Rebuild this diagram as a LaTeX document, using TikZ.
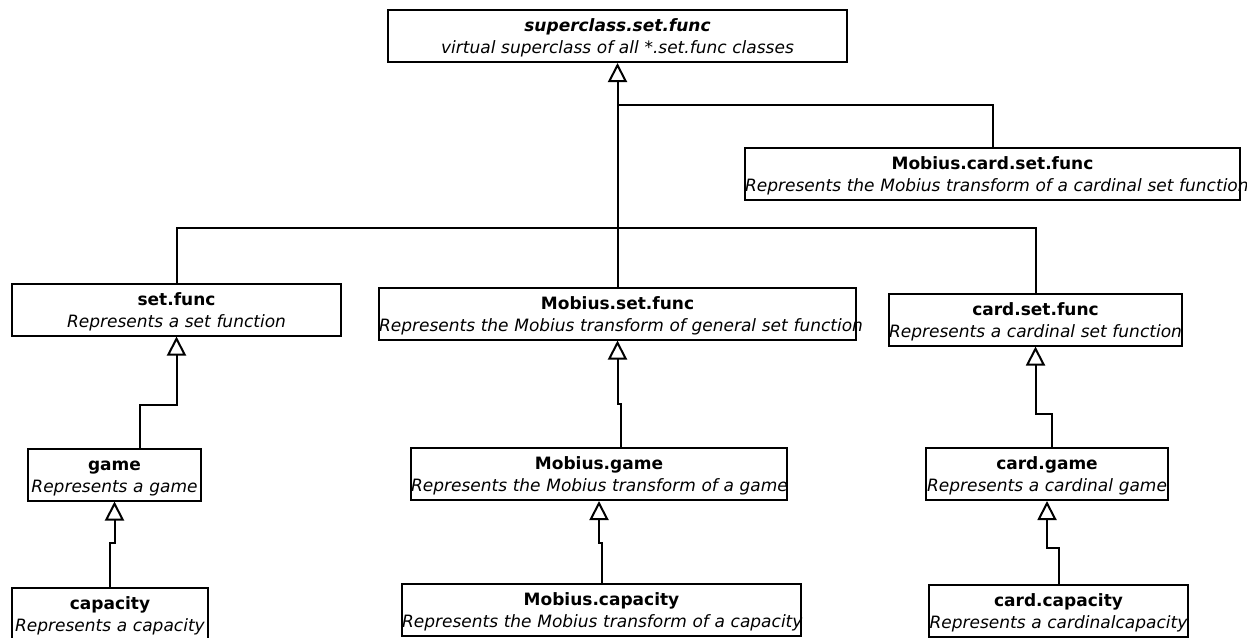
\documentclass[tikz,border=0pt]{standalone}
\usepackage{fontspec}
\setmainfont{DejaVu Sans}
\usetikzlibrary{arrows.meta}

\newcommand{\cls}[2]{\rule{0pt}{17pt}\mbox{\textbf{#1}}\\\mbox{\textit{#2}}}

\begin{document}
\begin{tikzpicture}[x=1pt,y=-1pt,
  >={Triangle[open,length=19pt,width=19pt]},
  class/.style={draw,line width=2pt,inner sep=0pt,align=center,
    minimum height=52pt,font=\fontsize{17}{22}\selectfont},
  inherit/.style={->,line width=2pt},
  link/.style={line width=2pt}]
  \useasboundingbox (0,0) rectangle (1247,637);

  % top level
  \node[class,text width=459pt] (super) at (617.5,36)
    {\cls{\textit{superclass.set.func}}{virtual superclass of all *.set.func classes}};
  \node[class,text width=495pt] (mcsf) at (992.5,173.5)
    {\cls{Mobius.card.set.func}{Represents the Mobius transform of a cardinal set function}};

  % set functions
  \node[class,text width=329pt] (setfunc) at (176.5,309.5)
    {\cls{set.func}{Represents a set function}};
  \node[class,text width=477pt] (msf) at (617.5,313.5)
    {\cls{Mobius.set.func}{Represents the Mobius transform of general set function}};
  \node[class,text width=293pt] (csf) at (1035.5,319.5)
    {\cls{card.set.func}{Represents a cardinal set function}};

  % games
  \node[class,text width=173pt] (game) at (114.5,474.5)
    {\cls{game}{Represents a game}};
  \node[class,text width=376pt] (mgame) at (599,474)
    {\cls{Mobius.game}{Represents the Mobius transform of a game}};
  \node[class,text width=242pt] (cgame) at (1047,474)
    {\cls{card.game}{Represents a cardinal game}};

  % capacities
  \node[class,text width=196pt] (cap) at (110,613.5)
    {\cls{capacity}{Represents a capacity}};
  \node[class,text width=399pt] (mcap) at (601.5,609.5)
    {\cls{Mobius.capacity}{Represents the Mobius transform of a capacity}};
  \node[class,text width=259pt] (ccap) at (1058.5,610.5)
    {\cls{card.capacity}{Represents a cardinalcapacity}};

  \coordinate (tap) at (617.5,105);
  \coordinate (bus) at (617.5,228);

  \draw[inherit] (msf.north) -- (super.south);
  \draw[link] (mcsf.north) |- (tap);
  \draw[link] (setfunc.north) |- (bus) -| (csf.north);

  \draw[inherit] ([xshift=25.5pt]game.north) -- ++(0,-43) -| (setfunc.south);
  \draw[inherit] (cap.north) -- ++(0,-44) -| (game.south);
  \draw[inherit] ([xshift=22pt]mgame.north) -- ++(0,-43) -| (msf.south);
  \draw[inherit] (mcap.north) -- ++(0,-40) -| (mgame.south);
  \draw[inherit] ([xshift=5pt]cgame.north) -- ++(0,-33) -| (csf.south);
  \draw[inherit] (ccap.north) -- ++(0,-36) -| (cgame.south);
\end{tikzpicture}
\end{document}
